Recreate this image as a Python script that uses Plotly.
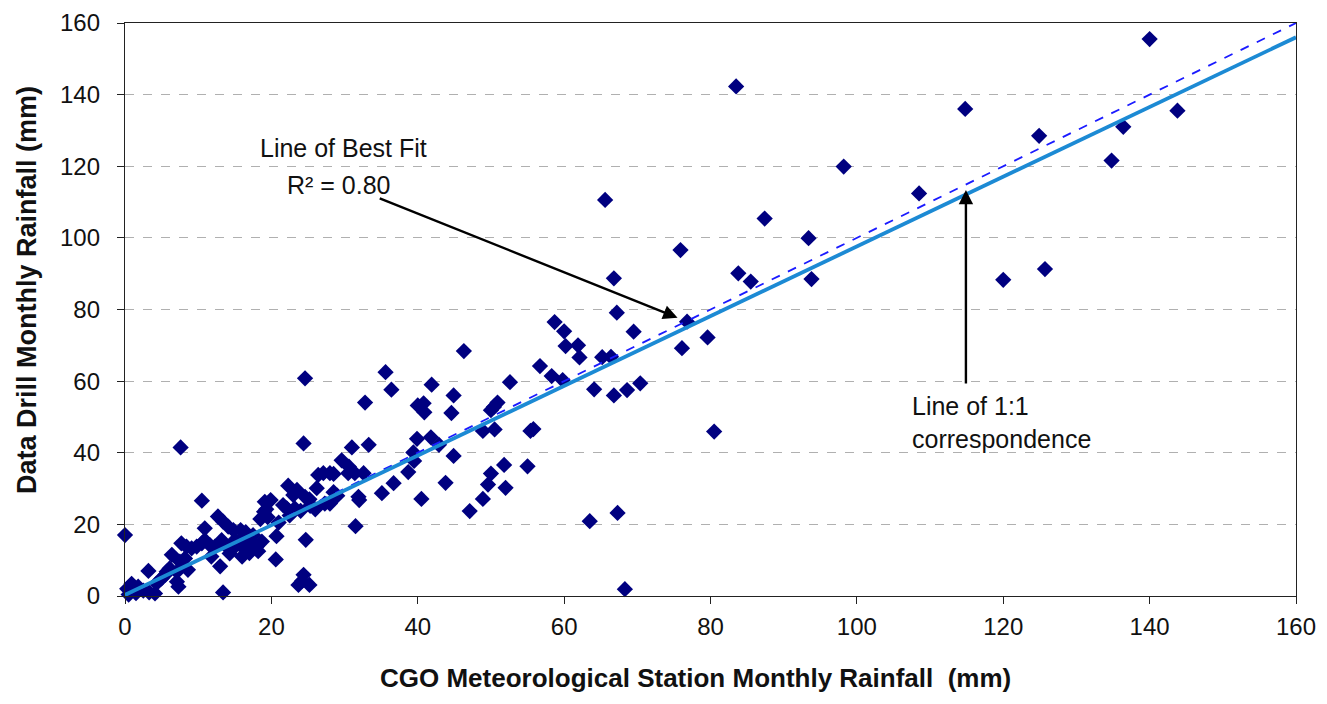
import plotly.graph_objects as go

# CGO station monthly rainfall (mm) vs Data Drill monthly rainfall (mm)
cgo_mm = [
    140, 83.5, 114.8, 143.8, 136.4, 124.9, 134.8, 98.2, 108.5, 65.6, 87.4, 93.4, 75.9, 83.8, 85.5, 66.8, 93.8, 120, 125.7,
    67.2, 76.8, 76.1, 79.6, 80.5,
    58.7, 60.0, 69.5, 60.2, 61.9, 62.1, 65.2, 66.4, 56.7, 58.3, 59.8, 64.1, 66.8, 68.6, 70.4, 46.3, 35.6, 36.4, 41.9,
    52.6, 44.9, 44.6, 40.0, 40.8, 40.9, 50.9, 50.4, 50.0, 48.9, 50.5, 55.4, 55.8, 39.9, 41.8, 42.9, 39.4, 44.9, 39.5,
    38.7, 36.7, 35.1, 40.5, 43.8, 51.8, 50.0, 49.6, 52.0, 48.9, 47.1, 55.0, 63.5, 67.3, 68.3,
    24.6, 32.8, 7.6, 24.4, 31.0, 33.3, 29.6, 27.1, 28.0, 26.4, 28.5, 30.6, 30.5, 31.4, 32.6, 31.9, 32.0, 31.5, 26.2,
    22.3, 23.5, 23.0, 24.6, 25.2, 27.3, 28.0, 28.5, 29.0, 19.1, 19.9, 21.6, 22.1, 23.2, 24.0, 19.0, 19.5, 18.5, 19.3,
    20.7, 24.7, 20.6, 24.4, 23.7, 25.2, 24.2, 21.0, 22.5, 26.0, 25.3,
    10.5, 0.0, 12.7, 13.4, 14.1, 14.8, 10.9, 7.7, 8.4, 9.1, 9.8, 10.5, 10.9, 11.6, 12.3, 13.2, 13.7, 11.8, 13.0, 6.4,
    8.2, 7.5, 6.1, 5.7, 7.1, 8.6, 3.2, 7.3, 7.1, 4.1, 13.4, 0.3, 0.9, 1.8, 0.5, 2.5, 1.5, 3.3, 4.3, 5.0, 5.5, 14.3,
    15.0, 15.7, 15.8, 15.0, 16.2, 16.0, 17.1, 18.0, 18.7, 17.5, 16.5, 18.2, 17.0,
]
drill_mm = [
    155.5, 142.3, 136.0, 135.5, 131.0, 128.5, 121.6, 119.9, 112.4, 110.6, 105.4, 99.9, 96.6, 90.1, 87.8, 88.7, 88.5, 88.3, 91.3,
    79.1, 76.6, 69.2, 72.2, 45.9,
    76.5, 73.9, 73.8, 69.8, 70.0, 66.6, 66.7, 66.8, 64.2, 61.4, 60.3, 57.7, 56.0, 57.5, 59.4, 68.4, 62.5, 57.6, 59.0,
    59.7, 56.0, 51.1, 53.2, 53.8, 51.3, 54.0, 52.8, 51.9, 46.1, 46.5, 46.1, 46.6, 43.9, 44.3, 42.2, 40.1, 39.1, 37.7,
    34.6, 31.5, 28.7, 27.1, 31.6, 36.6, 34.2, 31.1, 30.2, 27.1, 23.7, 36.2, 20.9, 23.2, 1.9,
    60.8, 54.0, 41.5, 42.6, 41.5, 42.2, 37.9, 34.3, 34.3, 33.8, 34.1, 36.1, 34.3, 34.3, 34.3, 27.7, 26.8, 19.5, 30.1,
    30.8, 29.6, 28.2, 27.7, 27.0, 25.8, 25.8, 29.0, 28.0, 26.3, 26.8, 25.4, 24.5, 24.5, 23.8, 23.5, 22.0, 21.5, 24.2,
    16.7, 15.7, 10.2, 5.9, 3.1, 3.1, 4.2, 20.5, 22.5, 24.2, 25.2,
    26.6, 17.0, 22.2, 20.8, 19.4, 18.4, 18.9, 14.7, 13.8, 13.3, 13.8, 14.7, 15.6, 14.2, 13.8, 15.6, 14.2, 11.0, 8.3, 11.5,
    10.5, 9.6, 7.7, 6.8, 6.8, 7.3, 7.0, 2.6, 4.0, 0.7, 1.0, 2.0, 3.4, 2.6, 0.4, 1.5, 0.8, 1.0, 3.5, 4.9, 5.9, 11.9,
    13.8, 15.6, 18.4, 15.6, 13.3, 11.0, 15.6, 13.8, 15.2, 17.0, 17.8, 12.5, 12.0,
]

one_to_one_x = [0, 160]
one_to_one_y = [0, 160]
fit_x = [0, 160]
fit_y = [0.3, 156.0]

x_ticks = [0, 20, 40, 60, 80, 100, 120, 140, 160]
y_ticks = [0, 20, 40, 60, 80, 100, 120, 140, 160]

FONT = "Liberation Sans, Arial, sans-serif"

fig = go.Figure()
fig.add_trace(go.Scatter(
    x=cgo_mm, y=drill_mm, mode="markers",
    marker=dict(symbol="diamond", size=12.5, color="#000080", line=dict(width=0)),
    cliponaxis=False, showlegend=False,
))
fig.add_trace(go.Scatter(
    x=one_to_one_x, y=one_to_one_y, mode="lines",
    line=dict(color="#1a1aff", width=1.8, dash="dash"), showlegend=False,
))
fig.add_trace(go.Scatter(
    x=fit_x, y=fit_y, mode="lines",
    line=dict(color="#1c8ad4", width=3.8), showlegend=False,
))

fig.update_layout(
    width=1311, height=688,
    margin=dict(l=117, r=23, t=15, b=100, autoexpand=False),
    paper_bgcolor="white", plot_bgcolor="white",
    font=dict(family=FONT, size=24, color="#111111"),
)
fig.update_xaxes(
    range=[0, 160], tickvals=x_ticks, ticktext=[str(v) for v in x_ticks],
    showgrid=False, zeroline=False, automargin=False,
    showline=True, linecolor="#222222", linewidth=1.3, mirror=True,
    ticks="outside", ticklen=7, tickcolor="#222222", ticklabelstandoff=2,
    tickfont=dict(size=24, family=FONT),
)
fig.update_yaxes(
    range=[0, 160], tickvals=y_ticks, ticktext=[str(v) for v in y_ticks],
    showgrid=True, gridcolor="#b0b0b0", griddash="dash", gridwidth=1,
    zeroline=False, automargin=False,
    showline=True, linecolor="#222222", linewidth=1.3, mirror=True,
    ticks="outside", ticklen=7, tickcolor="#222222", ticklabelstandoff=12,
    tickfont=dict(size=24, family=FONT),
)

# axis titles
fig.add_annotation(x=0.487, y=-0.143, xref="paper", yref="paper", xanchor="center", yanchor="middle",
                   text="<b>CGO Meteorological Station Monthly Rainfall  (mm)</b>", showarrow=False,
                   font=dict(size=26, family=FONT, color="#111111"))
fig.add_annotation(x=-0.0837, y=0.534, xref="paper", yref="paper", xanchor="center", yanchor="middle",
                   textangle=-90, text="<b>Data Drill Monthly Rainfall (mm)</b>", showarrow=False,
                   font=dict(size=27, family=FONT, color="#111111"))

# callouts
fig.add_annotation(x=75.5, y=77.7, ax=34.6, ay=111.2, xref="x", yref="y", axref="x", ayref="y",
                   text="", showarrow=True, arrowhead=2, arrowsize=1.2, arrowwidth=2.4, arrowcolor="#000000")
fig.add_annotation(x=114.9, y=113.4, ax=114.9, ay=58.9, xref="x", yref="y", axref="x", ayref="y",
                   text="", showarrow=True, arrowhead=2, arrowsize=1.2, arrowwidth=2.4, arrowcolor="#000000")
fig.add_annotation(x=29.9, y=125.1, xref="x", yref="y", text="Line of Best Fit", showarrow=False,
                   font=dict(size=25, family=FONT, color="#111111"))
fig.add_annotation(x=29.2, y=114.8, xref="x", yref="y", text="R² = 0.80", showarrow=False,
                   font=dict(size=25, family=FONT, color="#111111"))
fig.add_annotation(x=107.2, y=48.5, xref="x", yref="y", xanchor="left", align="left",
                   text="Line of 1:1<br>correspondence", showarrow=False,
                   font=dict(size=25, family=FONT, color="#111111"))

fig.write_html("out.html")
